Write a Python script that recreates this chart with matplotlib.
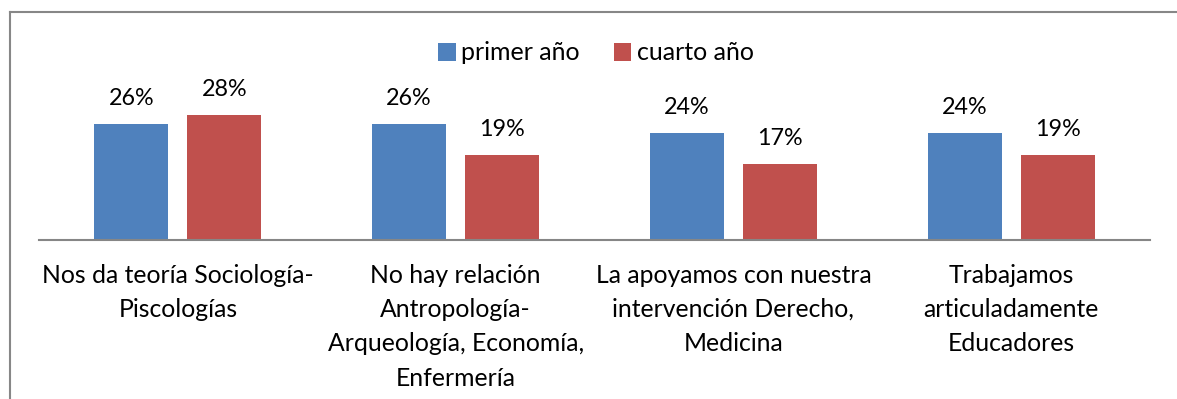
import matplotlib.pyplot as plt
from matplotlib.lines import Line2D
import numpy as np

plt.rcParams["font.family"] = ["Lato", "DejaVu Sans"]

categories = [
    "Nos da teoría Sociología-\nPiscologías",
    "No hay relación\nAntropología-\nArqueología, Economía,\nEnfermería",
    "La apoyamos con nuestra\nintervención Derecho,\nMedicina",
    "Trabajamos\narticuladamente\nEducadores",
]
primer_anio = [26, 26, 24, 24]
cuarto_anio = [28, 19, 17, 19]
series_names = ["primer año", "cuarto año"]

W, H = 1177, 399
fig = plt.figure(figsize=(W / 100, H / 100), dpi=100)
ax = fig.add_axes([39 / W, (H - 240) / H, (1150 - 39) / W, 210 / H])

x = np.arange(len(categories))
bw = 0.266
off = 0.1675
b1 = ax.bar(x - off, primer_anio, bw, color="#4F81BD", label=series_names[0])
b2 = ax.bar(x + off, cuarto_anio, bw, color="#C0504D", label=series_names[1])

for bars, vals in ((b1, primer_anio), (b2, cuarto_anio)):
    for r, v in zip(bars, vals):
        ax.annotate(f"{v}%", (r.get_x() + r.get_width() / 2, v),
                    xytext=(0, 15), textcoords="offset pixels",
                    ha="center", va="bottom", fontsize=16.8)

ax.set_xlim(-0.5, 3.5)
ax.set_ylim(0, 47)
ax.set_xticks(x)
ax.set_xticklabels(categories, fontsize=17.8, linespacing=1.6)
ax.tick_params(axis="x", length=0, pad=17)
ax.set_yticks([])
for s in ("top", "right", "left"):
    ax.spines[s].set_visible(False)
ax.spines["bottom"].set_color("#868686")
ax.spines["bottom"].set_linewidth(1.5)

ax.legend(loc="upper center", bbox_to_anchor=(596 / W, (H - 19) / H),
          bbox_transform=fig.transFigure, ncol=2, frameon=False,
          fontsize=18, handlelength=0.7, handleheight=0.7,
          handletextpad=0.22, columnspacing=1.35)

# chart frame
fig.add_artist(Line2D([9.5 / W, 9.5 / W], [0, (H - 12) / H], color="#878787", lw=1.5))
fig.add_artist(Line2D([9.5 / W, 1], [(H - 12) / H, (H - 12) / H], color="#878787", lw=1.5))

fig.savefig("out.png", dpi=100)
